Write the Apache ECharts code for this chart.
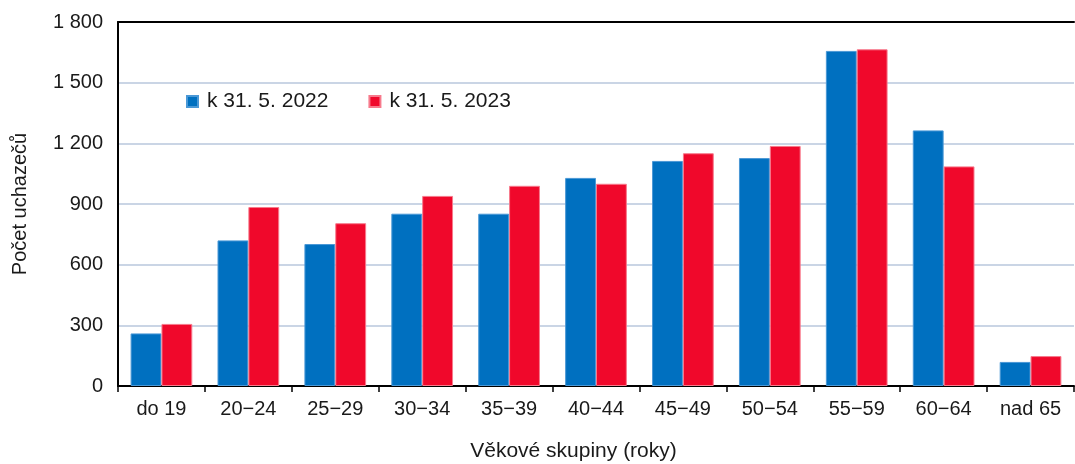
<!DOCTYPE html>
<html><head><meta charset="utf-8">
<script src="https://cdn.jsdelivr.net/npm/echarts@6/dist/echarts.min.js"></script>
<style>html,body{margin:0;padding:0;background:#fff}#c{width:1075px;height:464px}</style>
</head><body><div id="c"></div>
<script>
var categories = ['do 19','20\u221224','25\u221229','30\u221234','35\u221239','40\u221244','45\u221249','50\u221254','55\u221259','60\u221264','nad 65'];
var values2022 = [260, 720, 702, 852, 852, 1029, 1113, 1127, 1657, 1264, 119];
var values2023 = [307, 885, 805, 940, 990, 1000, 1151, 1187, 1665, 1086, 148];
var seriesNames = ['k 31. 5. 2022', 'k 31. 5. 2023'];
var yTicks = [0, 300, 600, 900, 1200, 1500, 1800];

var font = 'Liberation Sans, Arial, sans-serif';
var chart = echarts.init(document.getElementById('c'));
chart.setOption({
  animation: false,
  textStyle: {fontFamily: font},
  legend: {
    left: 181, top: 86, itemWidth: 11, itemHeight: 11, itemGap: 40,
    icon: 'rect',
    textStyle: {fontSize: 21, color: '#1a1a1a', fontFamily: font, padding: [0, 0, 0, 4]},
    data: seriesNames
  },
  grid: {left: 118, right: 1, top: 22, bottom: 78, containLabel: false, outerBoundsMode: 'none'},
  xAxis: [{
    type: 'category', data: categories,
    axisLine: {lineStyle: {color: '#000', width: 2}},
    axisTick: {show: true, alignWithLabel: false, length: 6, lineStyle: {color: '#000', width: 1.5}},
    axisLabel: {fontSize: 20, color: '#1a1a1a', margin: 13, fontFamily: font},
    name: 'V\u011bkov\u00e9 skupiny (roky)', nameLocation: 'middle', nameGap: 55,
    nameTextStyle: {fontSize: 21, color: '#1a1a1a', fontFamily: font, padding: [0, 45, 0, 0]}
  }, {
    type: 'category', position: 'top', data: categories,
    axisLine: {show: true, lineStyle: {color: '#000', width: 2}},
    axisTick: {show: false}, axisLabel: {show: false}
  }],
  yAxis: {
    type: 'value', min: 0, max: 1800, interval: 300,
    axisLine: {show: true, lineStyle: {color: '#000', width: 2}},
    axisTick: {show: false},
    splitLine: {lineStyle: {color: '#b9c7dc', width: 1.5}},
    axisLabel: {
      fontSize: 20, color: '#1a1a1a', margin: 15, fontFamily: font,
      formatter: function (v) { return yTicks.indexOf(v) >= 0 ? String(v).replace(/\B(?=(\d{3})+(?!\d))/g, ' ') : ''; }
    },
    name: 'Po\u010det uchaze\u010d\u016f', nameLocation: 'middle', nameGap: 88,
    nameTextStyle: {fontSize: 20, color: '#1a1a1a', fontFamily: font}
  },
  series: [{
    name: seriesNames[0], type: 'bar', data: values2022,
    barGap: '0%', barCategoryGap: '29%',
    itemStyle: {color: '#0070c0', borderColor: '#4a98d6', borderWidth: 1}
  }, {
    name: seriesNames[1], type: 'bar', data: values2023,
    barGap: '0%', barCategoryGap: '29%',
    itemStyle: {color: '#f0082b', borderColor: '#f77a8c', borderWidth: 1}
  }]
});
</script></body></html>
